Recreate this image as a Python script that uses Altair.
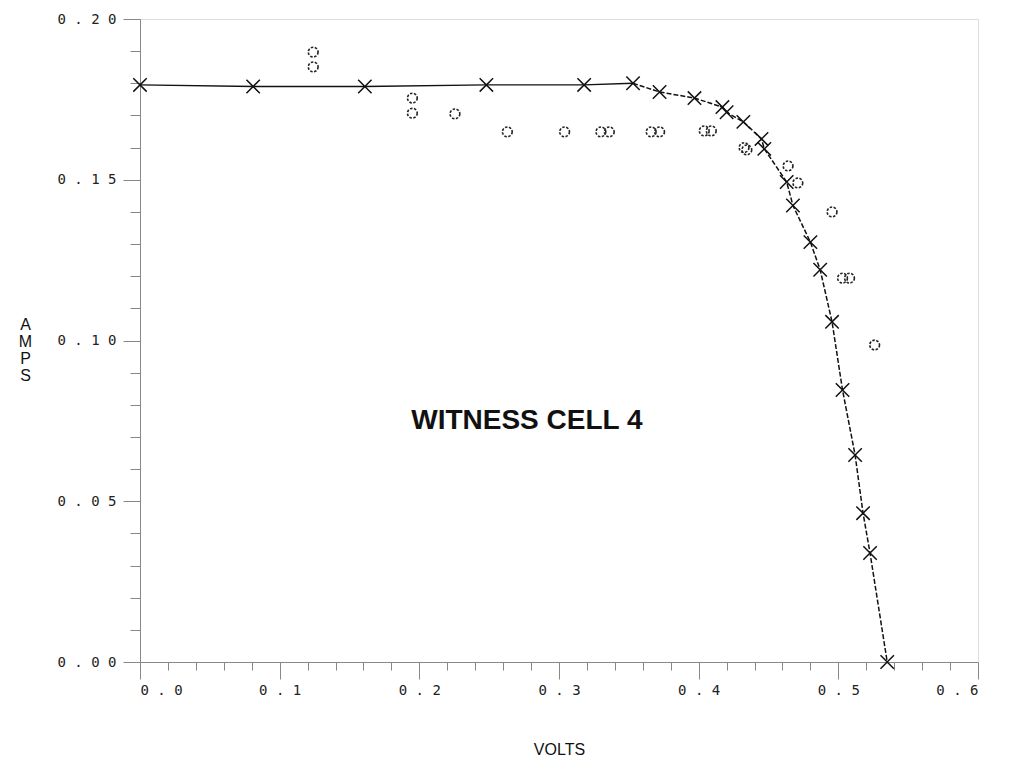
import altair as alt
import pandas as pd

# Measured I-V points (crosses, joined by the curve)
cross_v = [0.000, 0.081, 0.161, 0.248, 0.318, 0.353, 0.372, 0.397, 0.417, 0.420,
           0.432, 0.445, 0.447, 0.463, 0.4675, 0.480, 0.487, 0.4955, 0.503, 0.512,
           0.5177, 0.5227, 0.535]
cross_i = [0.1795, 0.179, 0.179, 0.1795, 0.1795, 0.180, 0.1773, 0.1754, 0.1726, 0.171,
           0.168, 0.1627, 0.1596, 0.1493, 0.142, 0.1306, 0.122, 0.1058, 0.0846, 0.0644,
           0.0463, 0.0339, 0.000]

# Second data set (open circles)
circle_v = [0.124, 0.124, 0.195, 0.195, 0.2255, 0.263, 0.304, 0.330, 0.336, 0.366,
            0.372, 0.404, 0.409, 0.4325, 0.4345, 0.464, 0.471, 0.4955, 0.503, 0.508, 0.526]
circle_i = [0.1897, 0.1851, 0.1754, 0.1707, 0.1705, 0.1649, 0.1649, 0.1649, 0.1649, 0.1649,
            0.1649, 0.1652, 0.1652, 0.160, 0.1593, 0.1543, 0.149, 0.140, 0.1194, 0.1194, 0.0986]

x_major = [0.0, 0.1, 0.2, 0.3, 0.4, 0.5, 0.6]
x_minor = [0.02, 0.04, 0.06, 0.08, 0.12, 0.14, 0.16, 0.18, 0.22, 0.24, 0.26, 0.28,
           0.32, 0.34, 0.36, 0.38, 0.42, 0.44, 0.46, 0.48, 0.52, 0.54, 0.56, 0.58]
y_major = [0.00, 0.05, 0.10, 0.15, 0.20]
y_minor = [0.01, 0.02, 0.03, 0.04, 0.06, 0.07, 0.08, 0.09, 0.11, 0.12, 0.13, 0.14,
           0.16, 0.17, 0.18, 0.19]

label_text = ["WITNESS CELL 4"]
label_v = [0.277]
label_i = [0.075]

cross_df = pd.DataFrame({"v": cross_v, "i": cross_i})
flat_df = cross_df.iloc[:6]
knee_df = cross_df.iloc[5:]
circle_df = pd.DataFrame({"v": circle_v, "i": circle_i})
label_df = pd.DataFrame({"t": label_text, "v": label_v, "i": label_i})

xs = alt.Scale(domain=[0, 0.6], nice=False, zero=False)
ys = alt.Scale(domain=[0, 0.2], nice=False, zero=False)

mono = "DejaVu Sans Mono"
spaced = "join(split(datum.label, ''), ' ')"

x_main_axis = alt.Axis(values=x_major, format=".1f", labelExpr=spaced, tickSize=17,
                       labelPadding=4, labelFont=mono, labelFontSize=14, labelColor="#222",
                       grid=False, orient="bottom", title="VOLTS",
                       titleFont="Liberation Sans", titleFontSize=16,
                       titleFontWeight="normal", titleY=87, titleBaseline="middle",
                       titleColor="#111")
y_main_axis = alt.Axis(values=y_major, format=".2f", labelExpr=spaced, tickSize=17,
                       labelPadding=7, labelFont=mono, labelFontSize=14, labelColor="#222",
                       grid=False, orient="left", title=["A", "M", "P", "S"],
                       titleAngle=0, titleAlign="center", titleBaseline="top",
                       titleX=-115, titleY=297, titleLineHeight=17,
                       titleFont="Liberation Sans", titleFontSize=16,
                       titleFontWeight="normal", titleColor="#111")
x_minor_axis = alt.Axis(values=x_minor, tickSize=8, labels=False, domain=False,
                        grid=False, orient="bottom", title=None)
y_minor_axis = alt.Axis(values=y_minor, tickSize=10, labels=False, domain=False,
                        grid=False, orient="left", title=None)

minor = alt.Chart(cross_df).mark_point(opacity=0).encode(
    x=alt.X("v:Q", scale=xs, axis=x_minor_axis),
    y=alt.Y("i:Q", scale=ys, axis=y_minor_axis),
)

flat_line = alt.Chart(flat_df).mark_line(color="#111", strokeWidth=1.4).encode(
    x=alt.X("v:Q", scale=xs, axis=x_main_axis),
    y=alt.Y("i:Q", scale=ys, axis=y_main_axis),
)

knee_line = alt.Chart(knee_df).mark_line(color="#111", strokeWidth=1.5,
                                         strokeDash=[5, 2]).encode(
    x=alt.X("v:Q", scale=xs, axis=None),
    y=alt.Y("i:Q", scale=ys, axis=None),
)

crosses = alt.Chart(cross_df).mark_point(
    shape="M-1,-1L1,1M-1,1L1,-1", size=180, color="#111", strokeWidth=1.5,
    filled=False, opacity=1).encode(
    x=alt.X("v:Q", scale=xs, axis=None),
    y=alt.Y("i:Q", scale=ys, axis=None),
)

circles = alt.Chart(circle_df).mark_point(
    shape="circle", size=95, color="#222", strokeWidth=1.6, filled=False,
    opacity=1, strokeDash=[2.5, 1.5]).encode(
    x=alt.X("v:Q", scale=xs, axis=None),
    y=alt.Y("i:Q", scale=ys, axis=None),
)

label = alt.Chart(label_df).mark_text(
    font="Liberation Sans", fontSize=28, fontWeight="bold", color="#111",
    align="center", baseline="middle").encode(
    x=alt.X("v:Q", scale=xs, axis=None),
    y=alt.Y("i:Q", scale=ys, axis=None),
    text="t:N",
)

chart = alt.layer(minor, flat_line, knee_line, crosses, circles, label).resolve_axis(
    x="independent", y="independent"
).properties(
    width=838, height=643,
    autosize=alt.AutoSizeParams(type="none"),
    padding={"left": 132, "top": 11, "right": 25, "bottom": 95},
).configure_view(
    stroke="#111", strokeWidth=1.6
).configure_axis(
    domainColor="#111", tickColor="#111", domainWidth=1.6, tickWidth=1.3
).configure(background="white")

chart.save("out.html", embed_options={"renderer": "svg", "actions": False})
